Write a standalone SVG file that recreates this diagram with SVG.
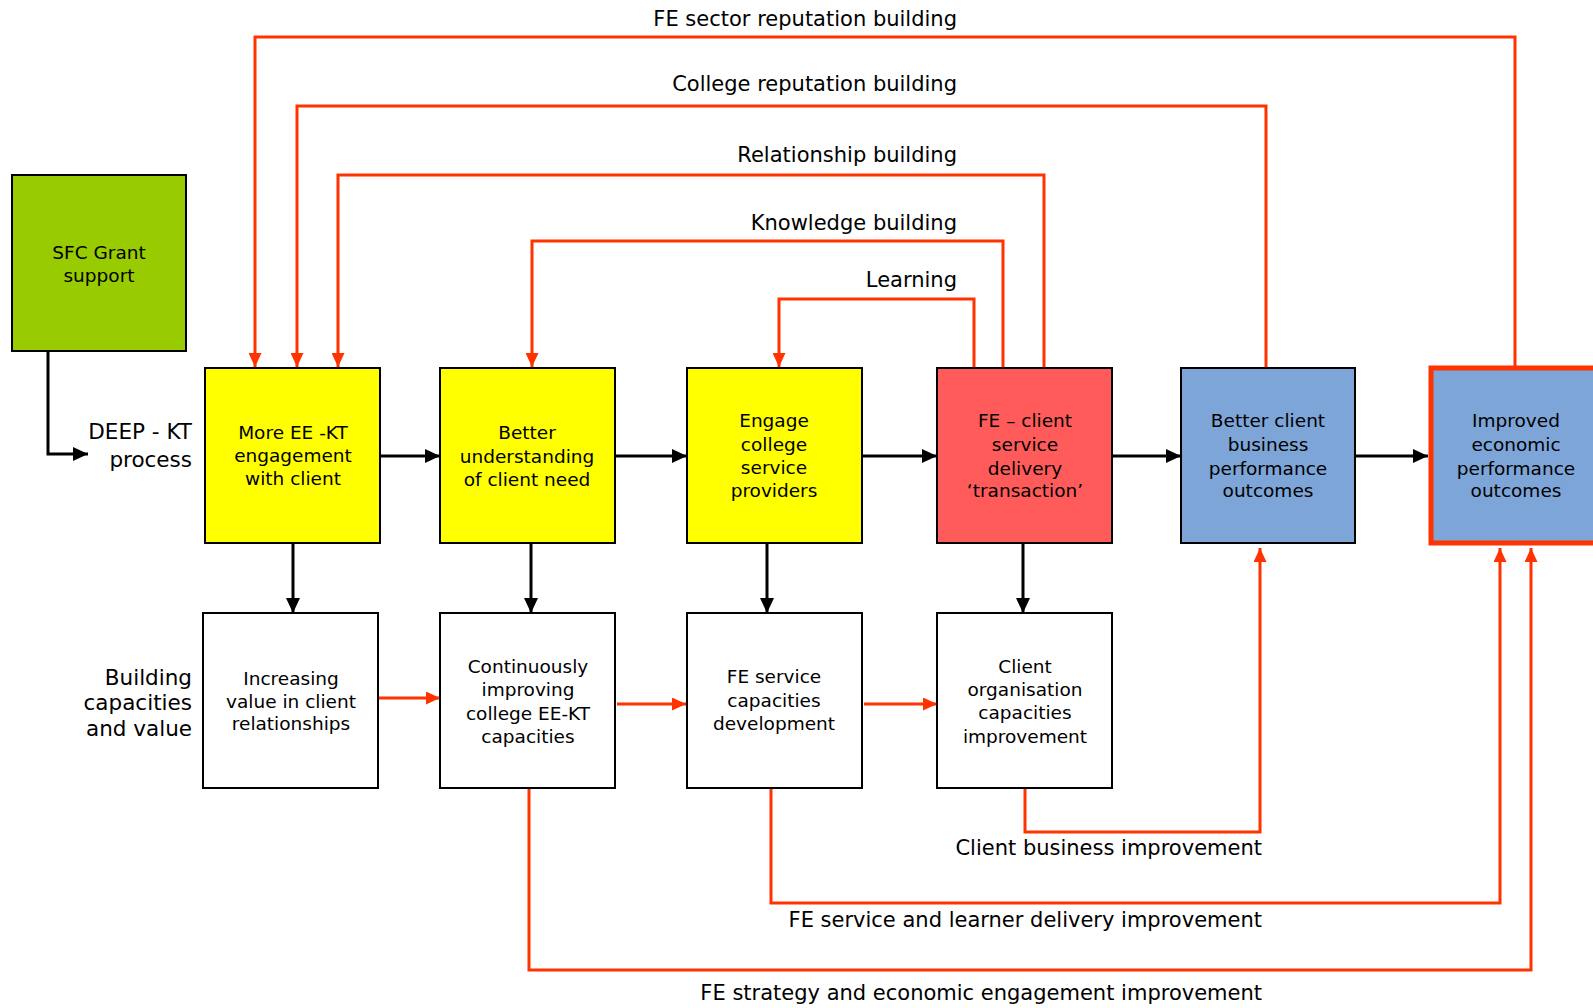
<svg xmlns="http://www.w3.org/2000/svg" width="1593" height="1008" viewBox="0 0 1593 1008">
<defs>
<style>
text{font-family:"DejaVu Sans","Liberation Sans",sans-serif;fill:#000}
.bt{font-size:18.5px;text-anchor:middle}
.lb{font-size:21px;text-anchor:end}
.sl{font-size:21.5px;text-anchor:end}
.box{stroke:#000;stroke-width:2}
.blk{fill:none;stroke:#000;stroke-width:3}
.red{fill:none;stroke:#FF3300;stroke-width:3}
</style>
<marker id="ab" markerUnits="userSpaceOnUse" markerWidth="16" markerHeight="14" refX="15" refY="7" orient="auto"><path d="M0,0 L15,7 L0,14 z" fill="#000"/></marker>
<marker id="ar" markerUnits="userSpaceOnUse" markerWidth="15" markerHeight="13" refX="14" refY="6.5" orient="auto"><path d="M0,0 L14,6.5 L0,13 z" fill="#FF3300"/></marker>
</defs>
<rect width="1593" height="1008" fill="#fff"/>

<g id="connectors">
<!-- SFC to DEEP-KT -->
<path class="blk" d="M48,351 V454 H88" marker-end="url(#ab)"/>
<!-- top row horizontal -->
<path class="blk" d="M380,456 H440" marker-end="url(#ab)"/>
<path class="blk" d="M615,456 H687" marker-end="url(#ab)"/>
<path class="blk" d="M862,456 H937" marker-end="url(#ab)"/>
<path class="blk" d="M1112,456 H1181" marker-end="url(#ab)"/>
<path class="blk" d="M1355,456 H1428" marker-end="url(#ab)"/>
<!-- vertical down -->
<path class="blk" d="M293,543 V613" marker-end="url(#ab)"/>
<path class="blk" d="M531,543 V613" marker-end="url(#ab)"/>
<path class="blk" d="M767,543 V613" marker-end="url(#ab)"/>
<path class="blk" d="M1023,543 V613" marker-end="url(#ab)"/>
<!-- bottom row red -->
<path class="red" d="M374,698 H440" marker-end="url(#ar)"/>
<path class="red" d="M617,704 H686" marker-end="url(#ar)"/>
<path class="red" d="M864,704 H937" marker-end="url(#ar)"/>
<!-- top loops -->
<path class="red" d="M1515,366 V37 H255 V367" marker-end="url(#ar)"/>
<path class="red" d="M1266,368 V106 H297 V367" marker-end="url(#ar)"/>
<path class="red" d="M1044,368 V175 H338 V367" marker-end="url(#ar)"/>
<path class="red" d="M1003,368 V241 H532 V367" marker-end="url(#ar)"/>
<path class="red" d="M974,368 V299 H779 V367" marker-end="url(#ar)"/>
<!-- bottom loops -->
<path class="red" d="M1025,788 V832 H1260 V548" marker-end="url(#ar)"/>
<path class="red" d="M771,788 V903 H1500 V548" marker-end="url(#ar)"/>
<path class="red" d="M529,788 V970 H1531 V548" marker-end="url(#ar)"/>
</g>

<g id="labels">
<text class="lb" x="957" y="26">FE sector reputation building</text>
<text class="lb" x="957" y="91">College reputation building</text>
<text class="lb" x="957" y="162">Relationship building</text>
<text class="lb" x="957" y="230">Knowledge building</text>
<text class="lb" x="957" y="287">Learning</text>
<text class="lb" x="1262" y="855">Client business improvement</text>
<text class="lb" x="1262" y="927">FE service and learner delivery improvement</text>
<text class="lb" x="1262" y="1000">FE strategy and economic engagement improvement</text>
<text class="sl" x="192" y="439">DEEP - KT</text>
<text class="sl" x="192" y="467">process</text>
<text class="sl" x="192" y="685">Building</text>
<text class="sl" x="192" y="710">capacities</text>
<text class="sl" x="192" y="736">and value</text>
</g>

<g id="sfc">
<rect class="box" x="12" y="175" width="174" height="176" fill="#99CC00"/>
<text class="bt" x="99" y="259">SFC Grant</text>
<text class="bt" x="99" y="282">support</text>
</g>

<g id="more-ee-kt">
<rect class="box" x="205" y="368" width="175" height="175" fill="#FFFF00"/>
<text class="bt" x="293" y="439">More EE -KT</text>
<text class="bt" x="293" y="462">engagement</text>
<text class="bt" x="293" y="485">with client</text>
</g>

<g id="better-understanding">
<rect class="box" x="440" y="368" width="175" height="175" fill="#FFFF00"/>
<text class="bt" x="527" y="439">Better</text>
<text class="bt" x="527" y="463">understanding</text>
<text class="bt" x="527" y="486">of client need</text>
</g>

<g id="engage-college">
<rect class="box" x="687" y="368" width="175" height="175" fill="#FFFF00"/>
<text class="bt" x="774" y="427">Engage</text>
<text class="bt" x="774" y="451">college</text>
<text class="bt" x="774" y="474">service</text>
<text class="bt" x="774" y="497">providers</text>
</g>

<g id="fe-client">
<rect class="box" x="937" y="368" width="175" height="175" fill="#FF5B5B"/>
<text class="bt" x="1025" y="427">FE – client</text>
<text class="bt" x="1025" y="451">service</text>
<text class="bt" x="1025" y="475">delivery</text>
<text class="bt" x="1025" y="497">‘transaction’</text>
</g>

<g id="better-client">
<rect class="box" x="1181" y="368" width="174" height="175" fill="#7DA5D7"/>
<text class="bt" x="1268" y="427">Better client</text>
<text class="bt" x="1268" y="451">business</text>
<text class="bt" x="1268" y="475">performance</text>
<text class="bt" x="1268" y="497">outcomes</text>
</g>

<g id="improved-economic">
<rect x="1431" y="368" width="180" height="175" fill="#7DA5D7" stroke="#FF3300" stroke-width="5"/>
<text class="bt" x="1516" y="427">Improved</text>
<text class="bt" x="1516" y="451">economic</text>
<text class="bt" x="1516" y="475">performance</text>
<text class="bt" x="1516" y="497">outcomes</text>
</g>

<g id="increasing-value">
<rect class="box" x="203" y="613" width="175" height="175" fill="#fff"/>
<text class="bt" x="291" y="685">Increasing</text>
<text class="bt" x="291" y="708">value in client</text>
<text class="bt" x="291" y="730">relationships</text>
</g>

<g id="continuously-improving">
<rect class="box" x="440" y="613" width="175" height="175" fill="#fff"/>
<text class="bt" x="528" y="673">Continuously</text>
<text class="bt" x="528" y="696">improving</text>
<text class="bt" x="528" y="720">college EE-KT</text>
<text class="bt" x="528" y="743">capacities</text>
</g>

<g id="fe-service-capacities">
<rect class="box" x="687" y="613" width="175" height="175" fill="#fff"/>
<text class="bt" x="774" y="683">FE service</text>
<text class="bt" x="774" y="707">capacities</text>
<text class="bt" x="774" y="730">development</text>
</g>

<g id="client-organisation">
<rect class="box" x="937" y="613" width="175" height="175" fill="#fff"/>
<text class="bt" x="1025" y="673">Client</text>
<text class="bt" x="1025" y="696">organisation</text>
<text class="bt" x="1025" y="719">capacities</text>
<text class="bt" x="1025" y="743">improvement</text>
</g>
</svg>
